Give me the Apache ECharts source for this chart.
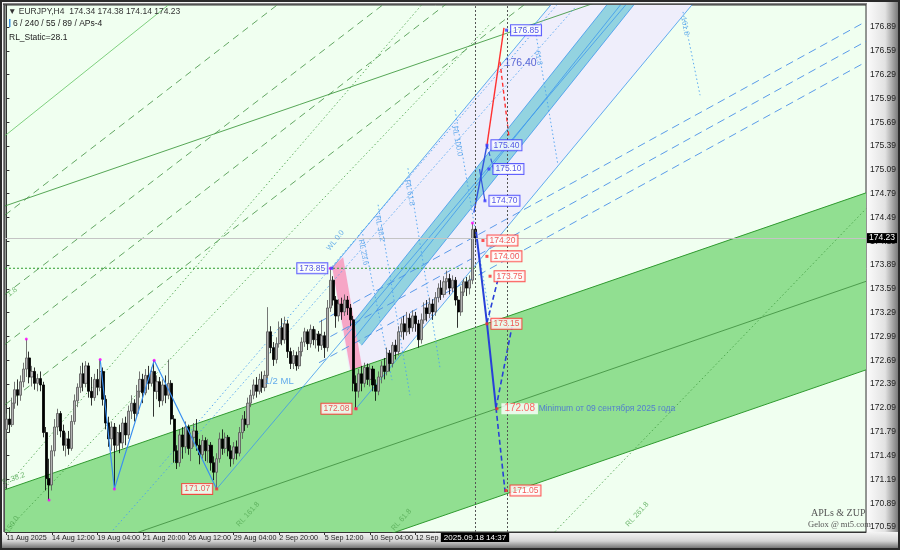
<!DOCTYPE html>
<html><head><meta charset="utf-8">
<script src="https://cdn.jsdelivr.net/npm/echarts@6/dist/echarts.min.js"></script>
<style>html,body{margin:0;padding:0;background:#fff}#c{width:900px;height:550px}</style>
</head><body><div id="c"></div>
<script>
// ---------------- DATA ----------------
const NSLOT = 303; // bar slots on the time axis (166 bars + chart shift)
const xTickLabels = [[0,'11 Aug 2025'],[16,'14 Aug 12:00'],[32,'19 Aug 04:00'],[48,'21 Aug 20:00'],[64,'26 Aug 12:00'],[80,'29 Aug 04:00'],[96,'2 Sep 20:00'],[112,'5 Sep 12:00'],[128,'10 Sep 04:00'],[144,'12 Sep 20:00']];
const yTicks = [170.59,170.89,171.19,171.49,171.79,172.09,172.39,172.69,172.99,173.29,173.59,173.89,174.19,174.49,174.79,175.09,175.39,175.69,175.99,176.29,176.59,176.89];
// EURJPY H4 candles: [open, close, low, high]
const candles = [
[171.82,171.95,171.70,172.02],[171.95,171.88,171.78,172.10],[171.88,172.15,171.85,172.22],[172.15,172.32,172.08,172.42],
[172.32,172.25,172.12,172.45],[172.25,172.42,172.18,172.50],[172.42,172.58,172.35,172.66],[172.58,172.72,172.48,172.96],
[172.72,172.48,172.40,172.80],[172.48,172.55,172.36,172.62],[172.55,172.40,172.32,172.60],[172.40,172.46,172.30,172.52],
[172.46,172.38,172.30,172.55],[172.38,171.78,171.72,172.42],[171.78,171.20,171.05,171.85],[171.20,171.12,170.93,171.45],
[171.12,171.55,171.05,171.62],[171.55,171.85,171.48,171.95],[171.85,172.02,171.75,172.08],[172.02,171.80,171.72,172.05],
[171.80,171.62,171.55,171.88],[171.62,171.70,171.48,171.78],[171.70,171.58,171.50,171.80],[171.58,171.92,171.55,172.00],
[171.92,172.18,171.88,172.26],[172.18,172.35,172.10,172.40],[172.35,172.52,172.28,172.62],[172.52,172.40,172.30,172.66],
[172.40,172.62,172.35,172.68],[172.62,172.30,172.22,172.66],[172.30,172.22,172.12,172.48],[172.22,172.45,172.18,172.52],
[172.45,172.35,172.25,172.58],[172.35,172.55,172.30,172.70],[172.55,172.20,172.12,172.60],[172.20,171.90,171.82,172.25],
[171.90,171.70,171.60,171.98],[171.70,171.85,171.55,171.92],[171.85,171.62,171.07,171.90],[171.62,171.78,171.55,171.85],
[171.78,171.65,171.52,171.88],[171.65,171.90,171.58,171.96],[171.90,171.75,171.62,171.98],[171.75,172.05,171.70,172.12],
[172.05,172.15,171.95,172.25],[172.15,172.02,171.92,172.20],[172.02,172.30,171.98,172.38],[172.30,172.45,172.22,172.55],
[172.45,172.28,172.15,172.52],[172.28,172.50,172.25,172.58],[172.50,172.40,172.32,172.62],[172.40,172.55,172.36,172.60],
[172.55,172.30,171.98,172.69],[172.30,172.42,172.20,172.50],[172.42,172.18,172.10,172.48],[172.18,172.38,172.12,172.45],
[172.38,172.25,172.15,172.50],[172.25,172.40,172.20,172.70],[172.40,171.95,171.88,172.44],[171.95,171.55,171.40,172.00],
[171.55,171.40,171.32,171.62],[171.40,171.75,171.35,171.82],[171.75,171.60,171.45,171.85],[171.60,171.85,171.52,171.92],
[171.85,171.58,171.50,171.88],[171.58,171.72,171.42,171.78],[171.72,171.80,171.60,171.90],[171.80,171.62,171.55,171.95],
[171.62,171.50,171.38,171.70],[171.50,171.68,171.45,171.75],[171.68,171.55,171.42,171.72],[171.55,171.62,171.40,171.70],
[171.62,171.40,171.30,171.66],[171.40,171.28,171.18,171.48],[171.28,171.45,171.07,171.52],[171.45,171.70,171.40,171.78],
[171.70,171.58,171.50,171.82],[171.58,171.72,171.52,171.78],[171.72,171.55,171.48,171.75],[171.55,171.45,171.35,171.62],
[171.45,171.60,171.38,171.66],[171.60,171.52,171.44,171.68],[171.52,171.78,171.48,171.85],[171.78,171.95,171.70,172.00],
[171.95,171.88,171.80,172.05],[171.88,172.15,171.84,172.22],[172.15,172.25,172.10,172.32],[172.25,172.38,172.20,172.45],
[172.38,172.30,172.22,172.48],[172.30,172.45,172.26,172.52],[172.45,172.35,172.28,172.55],[172.35,172.50,172.30,172.56],
[172.50,173.05,172.45,173.36],[173.05,172.85,172.78,173.12],[172.85,172.70,172.62,172.92],[172.70,172.90,172.65,172.98],
[172.90,173.10,172.85,173.18],[173.10,172.95,172.88,173.22],[172.95,173.15,172.90,173.24],[173.15,172.80,172.72,173.20],
[172.80,172.65,172.58,172.85],[172.65,172.75,172.58,172.82],[172.75,172.62,172.56,172.80],[172.62,172.80,172.58,172.86],
[172.80,172.92,172.74,172.98],[172.92,173.05,172.86,173.10],[173.05,172.90,172.82,173.08],[172.90,173.08,172.85,173.14],
[173.08,172.95,172.88,173.12],[172.95,173.02,172.84,173.08],[173.02,172.88,172.80,173.06],[172.88,173.00,172.82,173.20],
[173.00,172.85,172.72,173.05],[172.85,173.35,172.80,173.45],[173.35,173.70,173.30,173.85],[173.70,173.45,173.38,173.75],
[173.45,173.25,173.10,173.50],[173.25,173.40,173.18,173.46],[173.40,173.30,173.20,173.48],[173.30,173.45,173.25,173.52],
[173.45,173.35,173.26,173.50],[173.35,173.20,173.12,173.40],[173.20,172.40,172.30,173.25],[172.40,172.30,172.08,172.50],
[172.30,172.52,172.22,172.58],[172.52,172.40,172.30,172.62],[172.40,172.60,172.35,172.66],[172.60,172.45,172.38,172.65],
[172.45,172.58,172.36,172.64],[172.58,172.38,172.30,172.62],[172.38,172.30,172.18,172.45],[172.30,172.48,172.25,172.55],
[172.48,172.62,172.40,172.68],[172.62,172.55,172.45,172.72],[172.55,172.78,172.50,172.85],[172.78,172.65,172.55,172.82],
[172.65,172.88,172.60,172.92],[172.88,172.80,172.70,172.95],[172.80,173.05,172.75,173.12],[173.05,173.15,172.98,173.22],
[173.15,173.05,172.95,173.25],[173.05,173.22,173.00,173.30],[173.22,173.10,173.02,173.28],[173.10,173.25,173.05,173.32],
[173.25,173.15,173.05,173.30],[173.15,172.95,172.85,173.20],[172.95,173.20,172.90,173.28],[173.20,173.35,173.15,173.42],
[173.35,173.28,173.18,173.45],[173.28,173.40,173.22,173.48],[173.40,173.30,173.20,173.46],[173.30,173.48,173.25,173.55],
[173.48,173.60,173.42,173.66],[173.60,173.52,173.45,173.70],[173.52,173.68,173.48,173.75],[173.68,173.72,173.58,173.82],
[173.72,173.60,173.52,173.78],[173.60,173.70,173.55,173.76],[173.70,173.45,173.38,173.74],[173.45,173.30,173.10,173.50],
[173.30,173.55,173.25,173.62],[173.55,173.68,173.50,173.72],[173.68,173.60,173.50,173.74],[173.60,173.70,173.52,173.76],
[173.70,174.34,173.65,174.42],[174.34,174.23,174.14,174.38]
];
const lastPrice = 174.23;
const pivots = [[7,172.96],[15,170.93],[33,172.70],[38,171.07],[52,172.69],[114,173.85],[123,172.08],[164,174.42]];
const zigzag = [[33,172.70],[38,171.07],[52,172.69],[74,171.07]];
// price channel (green)
const chanUpper = [[-0.5,171.06],[302.5,174.80]];
const chanLower = [[-0.5,168.83],[302.5,172.57]];
const chanMid   = [[-0.5,169.945],[302.5,173.685]];
const chanOuter = [[-0.5,174.635],[302.5,178.37]];
const steepGreen = [[-0.5,175.52],[70,177.54]];
const greenDashed = [
  [[-0.5,174.52],[120,177.85]],
  [[-0.5,173.52],[150,177.65]],
  [[-0.5,172.89],[170,177.60]],
  [[-0.5,172.13],[200,177.66]]
];
const greenDotted = [
  [[1.26,170.59],[170,176.92]],
  [[-0.5,171.08],[170,178.16]],
  [[193,170.53],[302.5,174.60]]
];
// pitchfork (blue)
const tineB = [[114.5,173.85],[200,177.53]];
const tineC = [[123,172.08],[245,177.33]];
const median = [[74,171.07],[260,178.95]];
const tealUL = [[119.8,173.07],[212.0,177.2]];
const tealLR = [[125.0,172.88],[221.5,177.2]];
const tealMid = [[122.5,172.97],[216.8,177.2]];
const lavenderZone = [[114.5,173.85],[192.4,177.2],[242,177.2],[123,172.08]];
const tealZone = [[119.8,173.07],[212.0,177.2],[221.5,177.2],[125.0,172.88]];
const pinkZone = [[114.6,173.87],[118.5,173.99],[125.5,172.53],[123.4,172.10]];
const blueDotted = [[[37.5,170.55],[200,177.13]],[[54,171.35],[200,177.43]]];
const blueDashed = [[[110,173.17],[302.5,176.96]],[[110,172.91],[302.5,176.71]],[[110,172.66],[302.5,176.45]]];
const rlLines = [
  [[125.1,174.33],[135.7,172.44]],
  [[130.8,174.65],[142.0,172.25]],
  [[141.3,175.11],[152.6,172.59]],
  [[157.9,175.84],[170.9,173.07]],
  [[186.4,176.79],[194.1,175.15]],
  [[238.1,177.08],[244.1,176.03]]
];
// forecast paths
const redSolid = [[169.1,175.40],[175.1,176.88]];
const redDashed = [[173.7,176.45],[176.9,175.49]];
const blueUp = [[164.5,174.55],[169.1,175.40]];
const blueUp2 = [[166.5,175.10],[168.4,174.70]];
const blueUpDash = [[169.1,175.40],[171.5,175.10]];
const blueThick = [[165.3,174.31],[169.1,173.16],[172.3,172.09]];
const blueDashPaths = [
  [[172.3,172.09],[175.5,171.03]],
  [[172.3,172.09],[177.9,173.11]],
  [[169.1,173.16],[173.4,173.77]]
];
const level17385 = [[-0.5,173.85],[165,173.85]];
const vLines = [164.9, 176.1];
const boxesBlue = [[176,176.85,'176.85'],[169.1,175.40,'175.40'],[169.8,175.10,'175.10'],[168.4,174.70,'174.70']];
const boxesRed = [[167.7,174.20,'174.20'],[169.1,174.00,'174.00'],[170.2,173.75,'173.75'],[169.1,173.15,'173.15'],[175.8,171.05,'171.05']];
const boxesLeftBlue = [[114.5,173.85,'173.85']];
const boxesLeftRed = [[74,171.07,'171.07'],[123,172.08,'172.08']];
const bigLabel = [172.6,172.08,'172.08'];
const noteText = [187.3,172.08,'Minimum от 09 сентября 2025 года'];
const text17640 = [175.3,176.44,'176.40'];
const rlLabels = [
  [125.6,174.05,'RL 23.6','#4a9ee8',-79,7.5],[131.4,174.35,'RL 38.2','#4a9ee8',-79,7.5],[141.9,174.8,'RL 61.8','#4a9ee8',-79,7.5],
  [158.6,175.45,'RL 100.0','#4a9ee8',-79,7.5],[187.2,176.5,'61.8','#4a9ee8',-79,7.5],[238.8,176.9,'161.8','#4a9ee8',-79,7.5],
  [115.8,174.2,'WL 0.0','#4a9ee8',52,7.5],[96,172.42,'1/2 ML','#3d95ea',0,9.5],
  [2.5,171.2,'S. 38.2','#55aa55',19,7.5],[2,170.62,'150.0','#55aa55',55,7.5],[85,170.75,'RL 161.8','#55aa55',48,7.5],
  [139,170.68,'RL 61.8','#55aa55',48,7.5],[222,170.75,'RL 261.8','#55aa55',48,7.5],[2,173.55,'1.8','#55aa55',37,7.5]
];

// ---------------- CHART ----------------
const FONT = 'Liberation Sans, Arial, sans-serif';
const categories = Array.from({length: NSLOT}, (_, k) => { const f = xTickLabels.find(t => t[0] === k); return f ? f[1] : ''; });
const chart = echarts.init(document.getElementById('c'), null, {renderer: 'canvas'});

function line(pts, color, type, width, z) {
  return {type: 'line', xAxisIndex: 1, yAxisIndex: 0, data: pts, showSymbol: false, symbol: 'none', silent: true,
    lineStyle: {color: color, type: type || 'solid', width: width || 1}, z: z || 4, animation: false, clip: true};
}
function poly(pts, fill, z) {
  return {type: 'custom', xAxisIndex: 1, yAxisIndex: 0, silent: true, z: z, clip: true, data: [[0, 172]],
    renderItem: function (params, api) {
      const cs = params.coordSys;
      return {type: 'polygon', shape: {points: pts.map(p => api.coord(p))}, style: {fill: fill},
        clipPath: {type: 'rect', shape: {x: cs.x, y: cs.y, width: cs.width, height: cs.height}}};
    }};
}
function boxes(list, col, txt, pos) {
  return {type: 'scatter', xAxisIndex: 1, yAxisIndex: 0, symbol: 'rect', symbolSize: [3, 3], silent: true, z: 6, clip: false,
    itemStyle: {color: col},
    data: list.map(b => ({value: [b[0], b[1]], label: {formatter: b[2]}})),
    label: {show: true, position: pos || 'right', distance: 3, color: txt, fontSize: 8.5, fontFamily: FONT,
      backgroundColor: '#fff', borderColor: col, borderWidth: 1, padding: [1, 2, 0, 2]}};
}

const series = [];
series.push(poly(lavenderZone, '#efeefb', 1));
series.push(poly(tealZone, '#93d3e0', 1.1));
series.push(poly(pinkZone, '#f6a6c6', 1.2));
series.push(poly([chanUpper[0], chanUpper[1], chanLower[1], chanLower[0]], '#91df91', 1.3));
series.push(line(chanUpper, '#2f9a2f', 'solid', 1, 1.5));
series.push(line(chanLower, '#2f9a2f', 'solid', 1, 1.5));
series.push(line(chanMid, '#3b8a3b', 'solid', 0.8, 1.5));
series.push(line(chanOuter, '#2f8f2f', 'solid', 0.8, 1.5));
series.push(line(steepGreen, '#62c462', 'solid', 0.8, 1.5));
greenDashed.forEach(g => series.push(line(g, '#3f8f3f', [7, 5], 0.8, 1.5)));
greenDotted.forEach(g => series.push(line(g, '#3f9a3f', [1.5, 2.5], 0.8, 1.5)));
series.push(line(level17385, '#2e9e2e', [2, 2], 1, 1.6));
// pitchfork
[tineB, tineC, median, tealUL, tealLR, tealMid].forEach(l => series.push(line(l, '#3c98ee', 'solid', 0.8, 1.7)));
blueDotted.forEach(l => series.push(line(l, '#4aa0f0', [1.5, 2.5], 0.9, 1.7)));
blueDashed.forEach(l => series.push(line(l, '#4a90e8', [8, 5], 0.9, 1.7)));
rlLines.forEach(l => series.push(line(l, '#4aa0f0', [1.5, 2.5], 0.9, 1.7)));
// candles
series.push({type: 'candlestick', xAxisIndex: 0, yAxisIndex: 0, data: candles, barWidth: 2.6, silent: true, z: 3,
  itemStyle: {color: '#b4b4b4', color0: '#000000', borderColor: '#555555', borderColor0: '#000000', borderWidth: 0.8}});
// zigzag + forecast
series.push(line(zigzag, '#3a8ff0', 'solid', 1.2, 4));
series.push(line(redSolid, '#ff3030', 'solid', 1.4, 4));
series.push(line(redDashed, '#ff3030', [4, 3], 1.4, 4));
series.push(line(blueUp, '#3355dd', 'solid', 1.4, 4));
series.push(line(blueUp2, '#3355dd', 'solid', 1.2, 4));
series.push(line(blueUpDash, '#3355dd', [4, 3], 1.2, 4));
series.push(line(blueThick, '#2840d8', 'solid', 2, 4));
blueDashPaths.forEach(l => series.push(line(l, '#2840d8', [5, 3], 1.6, 4)));
// pivots
series.push({type: 'scatter', xAxisIndex: 0, yAxisIndex: 0, data: pivots, symbolSize: 3, itemStyle: {color: '#ff00ff'}, silent: true, z: 5});
// reference lines
series.push({type: 'line', xAxisIndex: 1, yAxisIndex: 0, data: [[-0.5, lastPrice]], showSymbol: false, silent: true, lineStyle: {opacity: 0}, z: 2,
  markLine: {symbol: 'none', silent: true, animation: false, data: [
    {yAxis: lastPrice, lineStyle: {color: '#c4c4c4', type: 'solid', width: 1},
      label: {show: true, position: 'end', distance: 1, formatter: lastPrice.toFixed(2), backgroundColor: '#000', color: '#fff', fontSize: 8.5, fontFamily: FONT, padding: [1, 2, 0, 2]}},
    {xAxis: vLines[0], lineStyle: {color: '#555', type: [2, 2], width: 1},
      label: {show: true, position: 'start', distance: 1, formatter: '2025.09.18 14:37', backgroundColor: '#000', color: '#fff', fontSize: 8, fontFamily: FONT, padding: [1, 3, 0, 3]}},
    {xAxis: vLines[1], lineStyle: {color: '#555', type: [2, 2], width: 1}, label: {show: false}}
  ]}});
// labels
series.push(boxes(boxesBlue, '#3a3aff', '#2a2ae0'));
series.push(boxes(boxesRed, '#ff2a2a', '#f03030'));
series.push(boxes(boxesLeftBlue, '#3a3aff', '#2a2ae0', 'left'));
series.push(boxes(boxesLeftRed, '#ff2a2a', '#f03030', 'left'));
series.push({type: 'scatter', xAxisIndex: 1, yAxisIndex: 0, symbol: 'rect', symbolSize: [3, 3], itemStyle: {color: '#ff2a2a'}, silent: true, z: 6, clip: false,
  data: [{value: [bigLabel[0], bigLabel[1]]}],
  label: {show: true, position: 'right', distance: 3, formatter: bigLabel[2], color: '#ff4040', fontSize: 10, fontFamily: FONT, backgroundColor: '#fff', padding: [1, 3, 0, 3]}});
series.push({type: 'scatter', xAxisIndex: 1, yAxisIndex: 0, symbolSize: 0, silent: true, z: 6,
  data: [{value: [noteText[0], noteText[1]], label: {formatter: noteText[2], fontSize: 8.5, color: '#4466dd'}},
         {value: [text17640[0], text17640[1]], label: {formatter: text17640[2], fontSize: 10.5, color: '#3344cc'}}],
  label: {show: true, position: 'right', distance: 0, fontFamily: FONT}});
series.push({type: 'scatter', xAxisIndex: 1, yAxisIndex: 0, symbolSize: 0, silent: true, z: 7, clip: false,
  data: rlLabels.map(r => ({value: [r[0], r[1]], label: {formatter: r[2], color: r[3], rotate: r[4], fontSize: r[5]}})),
  label: {show: true, position: 'inside', fontFamily: FONT}});

const option = {
  animation: false,
  backgroundColor: '#f3f3f3',
  textStyle: {fontFamily: FONT},
  grid: {left: 5, top: 5, right: 34, bottom: 18, show: true, backgroundColor: '#f0fff0', borderColor: '#333', borderWidth: 1},
  xAxis: [
    {type: 'category', data: categories, boundaryGap: true,
      axisLine: {show: true, lineStyle: {color: '#333'}},
      axisTick: {show: true, interval: (i) => categories[i] !== '', alignWithLabel: true, length: 3, lineStyle: {color: '#333'}},
      axisLabel: {interval: (i) => categories[i] !== '', showMinLabel: true, hideOverlap: false, align: 'left', margin: 3, fontSize: 7.2, color: '#222', fontFamily: FONT},
      splitLine: {show: false}},
    {type: 'value', min: -0.5, max: NSLOT - 0.5, show: false, splitLine: {show: false}}
  ],
  yAxis: {type: 'value', position: 'right', min: 170.527, max: 177.167, scale: true,
    axisLine: {show: true, lineStyle: {color: '#333'}}, splitLine: {show: false},
    axisTick: {show: true, length: 3, customValues: yTicks, lineStyle: {color: '#333'}},
    axisLabel: {customValues: yTicks, formatter: v => v.toFixed(2), margin: 4, fontSize: 8.5, color: '#222', fontFamily: FONT}},
  graphic: [
    {type: 'rect', silent: true, z: -10, shape: {x: 867, y: 0, width: 33, height: 550},
      style: {fill: new echarts.graphic.LinearGradient(0, 0, 1, 0, [{offset: 0, color: '#fbfbfb'}, {offset: 0.55, color: '#e2e2e2'}, {offset: 1, color: '#6a6a6a'}])}},
    {type: 'rect', silent: true, z: -10, shape: {x: 0, y: 532, width: 900, height: 18},
      style: {fill: new echarts.graphic.LinearGradient(0, 0, 0, 1, [{offset: 0, color: '#f4f4f4'}, {offset: 0.5, color: '#d4d4d4'}, {offset: 1, color: '#5a5a5a'}])}},
    {type: 'rect', silent: true, z: -10, shape: {x: 0, y: 0, width: 867, height: 5}, style: {fill: '#f6f6f6'}},
    {type: 'rect', silent: true, z: -10, shape: {x: 0, y: 0, width: 5, height: 532}, style: {fill: '#f6f6f6'}},
    {type: 'line', silent: true, z: 20, shape: {x1: 3, y1: 4, x2: 867, y2: 4}, style: {stroke: '#111', lineWidth: 1}},
    {type: 'line', silent: true, z: 20, shape: {x1: 4, y1: 4, x2: 4, y2: 532}, style: {stroke: '#111', lineWidth: 1}},
    {type: 'rect', silent: true, z: 20, shape: {x: 1, y: 1, width: 898, height: 548}, style: {fill: 'none', stroke: '#2a2a2a', lineWidth: 2}},
    {type: 'text', z: 20, left: 8, top: 7, style: {text: '▼ EURJPY,H4  174.34 174.38 174.14 174.23', font: '8.5px ' + FONT, fill: '#333'}},
    {type: 'rect', z: 20, shape: {x: 9, y: 19, width: 1.5, height: 8}, style: {fill: '#3d8fe0'}},
    {type: 'text', z: 20, left: 13, top: 19, style: {text: '6 / 240 / 55 / 89 / APs-4', font: '8.5px ' + FONT, fill: '#222'}},
    {type: 'text', z: 20, left: 9, top: 33, style: {text: 'RL_Static=28.1', font: '8.5px ' + FONT, fill: '#222'}},
    {type: 'text', z: 20, left: 811, top: 508, style: {text: 'APLs & ZUP', font: '10px Liberation Serif, serif', fill: '#555'}},
    {type: 'text', z: 20, left: 808, top: 520, style: {text: 'Gelox @ mt5.com', font: '8.5px Liberation Serif, serif', fill: '#555'}}
  ],
  series: series
};
chart.setOption(option);
</script></body></html>
